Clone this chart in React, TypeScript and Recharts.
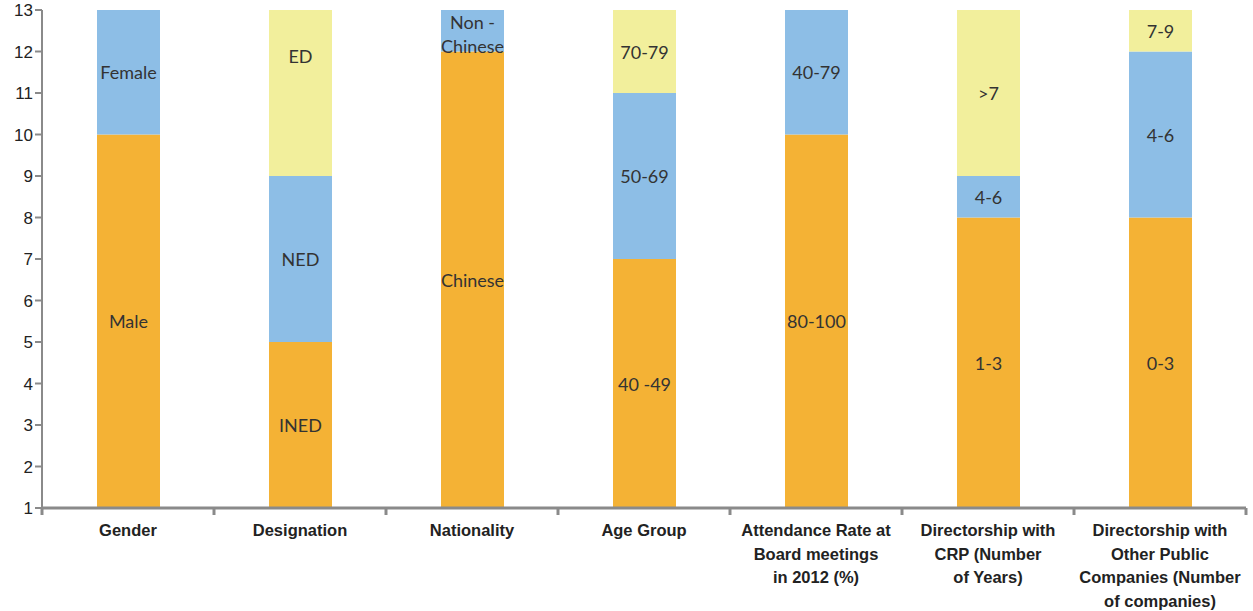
import { BarChart, Bar, XAxis, YAxis, LabelList } from "recharts";

const categories = [
  "Gender",
  "Designation",
  "Nationality",
  "Age Group",
  "Attendance Rate at\nBoard meetings\nin 2012 (%)",
  "Directorship with\nCRP (Number\nof Years)",
  "Directorship with\nOther Public\nCompanies (Number\nof companies)",
];

// stacked values (the axis starts at 1, so the bottom segment is read as its top value)
const bottomValues = [10, 5, 12, 7, 10, 8, 8];
const middleValues = [3, 4, 1, 4, 3, 1, 4];
const topValues = [0, 4, 0, 2, 0, 4, 1];

const bottomLabels = ["Male", "INED", "Chinese", "40 -49", "80-100", "1-3", "0-3"];
const middleLabels = ["Female", "NED", "Non -\nChinese", "50-69", "40-79", "4-6", "4-6"];
const topLabels = ["", "ED", "", "70-79", "", ">7", "7-9"];

const yTicks = [1, 2, 3, 4, 5, 6, 7, 8, 9, 10, 11, 12, 13];

const data = categories.map((name, i) => ({
  name,
  bottom: bottomValues[i],
  middle: middleValues[i],
  top: topValues[i],
  bottomLabel: bottomLabels[i],
  middleLabel: middleLabels[i],
  topLabel: topLabels[i],
}));

const AXIS = "#8a8a8a";
const HALF_BAND = 86;
// the original places this one label higher than its segment centre
const labelNudge: Record<string, number> = { ED: -37 };

const SegmentLabel = (props: any) => {
  const { x, y, width, height, value } = props;
  if (!value) return null;
  const lines = String(value).split("\n");
  const cx = Number(x) + Number(width) / 2;
  const cy = Number(y) + Number(height) / 2 + (labelNudge[value] || 0);
  const lh = 24;
  const start = cy - ((lines.length - 1) * lh) / 2 + (lines.length > 1 ? 3 : 0);
  return (
    <text
      x={cx}
      textAnchor="middle"
      fontFamily="Lato, 'Noto Sans', sans-serif"
      fontSize={18}
      fill="#333"
    >
      {lines.map((l, i) => (
        <tspan key={i} x={cx} y={start + i * lh} dominantBaseline="central">
          {l}
        </tspan>
      ))}
    </text>
  );
};

const CategoryTick = (props: any) => {
  const { x, y, payload, index } = props;
  const lines = String(payload.value).split("\n");
  return (
    <g>
      <line x1={x - HALF_BAND} x2={x - HALF_BAND} y1={y - 8} y2={y - 1} stroke={AXIS} strokeWidth={3} />
      {index === categories.length - 1 && (
        <line x1={x + HALF_BAND} x2={x + HALF_BAND} y1={y - 8} y2={y - 1} stroke={AXIS} strokeWidth={3} />
      )}
      <text
        x={x}
        textAnchor="middle"
        fontFamily="'Liberation Sans', Arial, sans-serif"
        fontWeight="bold"
        fontSize={16.5}
        fill="#222"
      >
        {lines.map((l, i) => (
          <tspan key={i} x={x} y={y + 20 + i * 23.7}>
            {l}
          </tspan>
        ))}
      </text>
    </g>
  );
};

export default function App() {
  return (
    <div style={{ position: "absolute", left: 0, top: 0, background: "#fff" }}>
      <BarChart
        width={1253}
        height={611}
        data={data}
        margin={{ top: 10, right: 7, bottom: 0, left: 0 }}
        barSize={63}
      >
        <XAxis
          dataKey="name"
          interval={0}
          height={103}
          tickLine={false}
          axisLine={{ stroke: AXIS, strokeWidth: 3 }}
          tick={<CategoryTick />}
        />
        <YAxis
          width={42}
          domain={[1, 13]}
          ticks={yTicks}
          allowDataOverflow
          tickSize={7}
          tickLine={{ stroke: AXIS, strokeWidth: 2 }}
          axisLine={{ stroke: AXIS, strokeWidth: 2 }}
          tick={{ fill: "#222", fontSize: 17, fontFamily: "'Liberation Sans', Arial, sans-serif" }}
        />
        <Bar dataKey="bottom" stackId="a" fill="#F4B235" isAnimationActive={false}>
          <LabelList dataKey="bottomLabel" content={<SegmentLabel />} />
        </Bar>
        <Bar dataKey="middle" stackId="a" fill="#8DBEE6" isAnimationActive={false}>
          <LabelList dataKey="middleLabel" content={<SegmentLabel />} />
        </Bar>
        <Bar dataKey="top" stackId="a" fill="#F2EF9C" isAnimationActive={false}>
          <LabelList dataKey="topLabel" content={<SegmentLabel />} />
        </Bar>
      </BarChart>
    </div>
  );
}
